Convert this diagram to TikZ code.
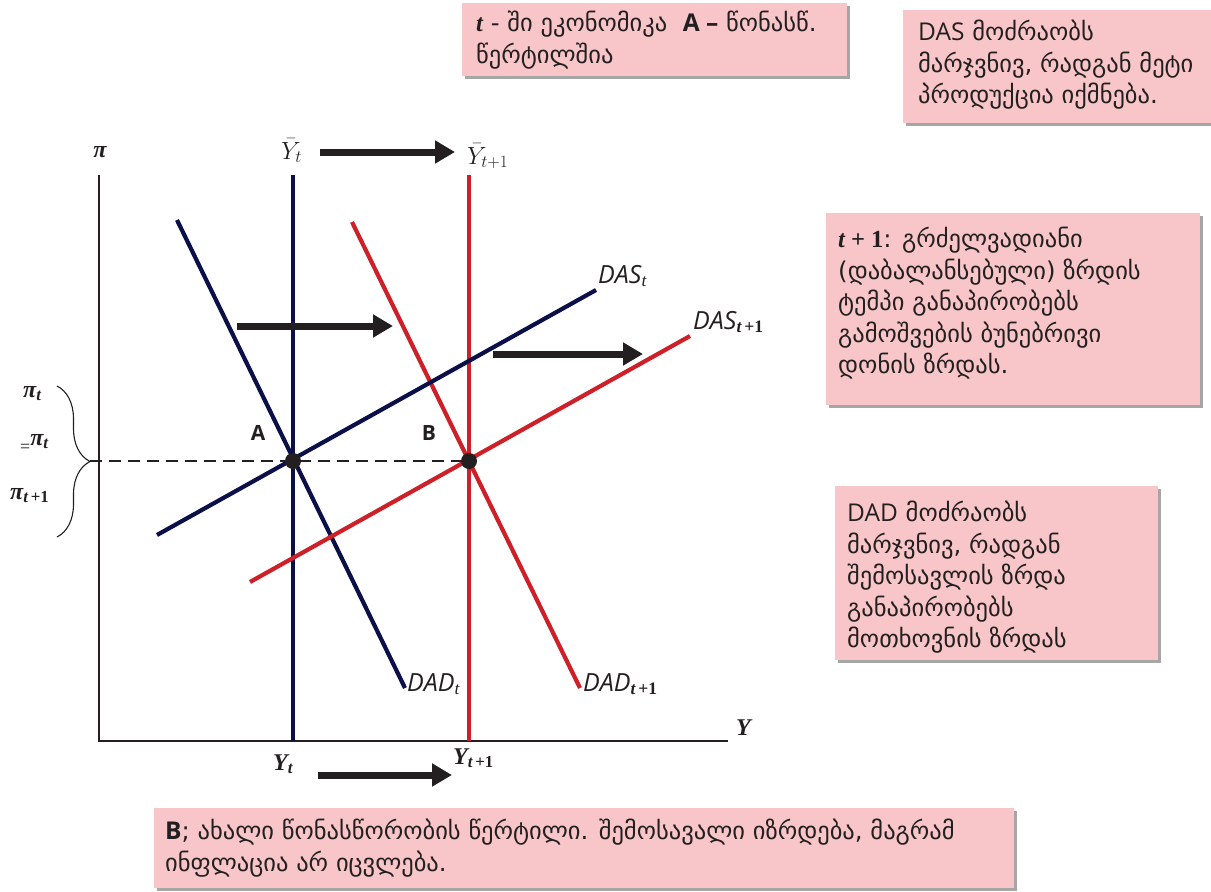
\documentclass[tikz,border=0pt]{standalone}
\usepackage{fontspec}
\setmainfont{DejaVu Sans}
\newfontfamily\lat{Open Sans}
\newfontfamily\tms{Liberation Serif}
\usetikzlibrary{arrows.meta,shadows,decorations.pathreplacing}

\definecolor{navy}{RGB}{12,16,72}
\definecolor{cred}{RGB}{206,32,41}
\definecolor{notepink}{RGB}{248,198,200}
\definecolor{ink}{RGB}{35,31,32}

\tikzset{
  note/.style={fill=notepink, draw=none, inner sep=0pt, anchor=north west,
    drop shadow={shadow xshift=3pt, shadow yshift=-3pt, fill=black, opacity=0.35}},
  notetext/.style={anchor=north west, align=left, inner sep=0pt, text=ink,
    font=\fontsize{24.5}{31.5}\selectfont},
  axisline/.style={draw=ink, line width=1.6pt},
  navyline/.style={draw=navy, line width=4.2pt},
  redline/.style={draw=cred, line width=4.2pt},
  shift arrow/.style={draw=ink, line width=7pt, -{Triangle[length=20pt,width=22pt]}},
  eqdot/.style={circle, fill=ink, minimum size=16pt, inner sep=0pt},
  curvelabel/.style={anchor=base west, inner sep=0pt, text=ink,
    font=\lat\itshape\fontsize{25}{25}\selectfont},
  mathlabel/.style={anchor=base west, inner sep=0pt, text=ink,
    font=\tms\bfseries\itshape\fontsize{24}{24}\selectfont},
  barlabel/.style={anchor=base west, inner sep=0pt, text=ink,
    font=\fontsize{26}{26}\selectfont},
  pointlabel/.style={inner sep=0pt, text=ink, font=\lat\bfseries\fontsize{21}{21}\selectfont},
}

\newcommand{\sbt}[1]{\textsubscript{\tms\itshape #1}}
\newcommand{\sbtp}{\textsubscript{\tms\bfseries\itshape t\,\upshape+1}}

\begin{document}
\begin{tikzpicture}[x=1pt,y=-1pt]
\useasboundingbox (0,0) rectangle (1211,892);

% ---- notes ----
\node[note, minimum width=385pt, minimum height=73pt] (n1) at (462,3) {};
\node[notetext] (n1t) at (476,11) {{\tms\bfseries\itshape t} - ში ეკონომიკა\ \ {\lat\bfseries A –} წონასწ.\\წერტილშია};

\node[note, minimum width=312pt, minimum height=113pt] (n2) at (903,10) {};
\node[notetext] (n2t) at (918,20) {{\lat DAS} მოძრაობს\\მარჯვნივ, რადგან მეტი\\პროდუქცია იქმნება.};

\node[note, minimum width=374pt, minimum height=192pt] (n3) at (826,213) {};
\node[notetext] (n3t) at (838,227) {{\tms\bfseries\itshape t\upshape\ + 1}: გრძელვადიანი\\(დაბალანსებული) ზრდის\\ტემპი განაპირობებს\\გამოშვების ბუნებრივი\\დონის ზრდას.};

\node[note, minimum width=323pt, minimum height=174pt] (n4) at (835,486) {};
\node[notetext] (n4t) at (847,501) {{\lat DAD} მოძრაობს\\მარჯვნივ, რადგან\\შემოსავლის ზრდა\\განაპირობებს\\მოთხოვნის ზრდას};

\node[note, minimum width=860pt, minimum height=80pt] (n5) at (154,808) {};
\node[notetext] (n5t) at (165,819) {{\lat\bfseries B}; ახალი წონასწორობის წერტილი. შემოსავალი იზრდება, მაგრამ\\ინფლაცია არ იცვლება.};

% ---- axes ----
\coordinate (ytop) at (99,175);
\coordinate (O) at (99,741);
\coordinate (xend) at (728,741);
\draw[axisline] (ytop) -- (O) -- (xend);
\node[mathlabel, anchor=center] (pi) at (100,152) {π};
\node[mathlabel] (Ylab) at (736,735) {Y};

% ---- equilibrium points ----
\coordinate (A) at (293,461);
\coordinate (B) at (469,461);

% brace with inflation labels
\coordinate (brtop) at (57,386);
\coordinate (brbot) at (57,537);
\coordinate (brtip) at (90,461);
\draw[ink, line width=1.1pt, decorate, decoration={brace, amplitude=33pt}] (brtop) -- (brbot);
\draw[ink, line width=1.2pt, dash pattern=on 12pt off 7pt] (brtip) -- (B);
\node[mathlabel] (pit) at (23,397) {π\sbt{t}};
\node[mathlabel] (pieq) at (20,452) {{\upshape\mdseries\fontsize{18}{18}\selectfont =}\raisebox{7pt}{π\sbt{t}}};
\node[mathlabel] (pitp) at (10,499) {π\sbtp};

% ---- potential output ----
\coordinate (ybt1) at (293,175);
\coordinate (ybt2) at (293,741);
\coordinate (ybn1) at (469,175);
\coordinate (ybn2) at (469,741);
\draw[navyline] (ybt1) -- (ybt2);
\draw[redline] (ybn1) -- (ybn2);
\node[barlabel] (ybarlab1) at (281,159) {$\bar{Y}_t$};
\node[barlabel] (ybarlab2) at (467,164) {$\bar{Y}_{t+1}$};
\node[mathlabel] (ylab1) at (273,770) {Y\sbt{t}};
\node[mathlabel] (ylab2) at (453,764) {Y\sbtp};

% ---- demand curves ----
\coordinate (dad1a) at (177,220);
\coordinate (dad1b) at (405,688);
\coordinate (dad2a) at (352,222);
\coordinate (dad2b) at (580,688);
\draw[navyline] (dad1a) -- (dad1b);
\draw[redline] (dad2a) -- (dad2b);
\node[curvelabel] (dadlab1) at (407,691) {DAD\sbt{t}};
\node[curvelabel] (dadlab2) at (583,691) {DAD\sbtp};

% ---- supply curves ----
\coordinate (das1a) at (157,535);
\coordinate (das1b) at (596,290);
\coordinate (das2a) at (250,582);
\coordinate (das2b) at (690,336);
\draw[navyline] (das1a) -- (das1b);
\draw[redline] (das2a) -- (das2b);
\node[curvelabel] (daslab1) at (598,283) {DAS\sbt{t}};
\node[curvelabel] (daslab2) at (693,329) {DAS\sbtp};

% ---- shift arrows ----
\coordinate (ar1s) at (320,152); \coordinate (ar1e) at (455,152);
\coordinate (ar2s) at (318,775); \coordinate (ar2e) at (452,775);
\coordinate (ar3s) at (237,326); \coordinate (ar3e) at (393,326);
\coordinate (ar4s) at (493,354); \coordinate (ar4e) at (643,354);
\draw[shift arrow] (ar1s) -- (ar1e);
\draw[shift arrow] (ar2s) -- (ar2e);
\draw[shift arrow] (ar3s) -- (ar3e);
\draw[shift arrow] (ar4s) -- (ar4e);

% ---- points ----
\node[eqdot] (Adot) at (A) {};
\node[eqdot] (Bdot) at (B) {};
\node[pointlabel] (Alab) at (258,433) {A};
\node[pointlabel] (Blab) at (429,433) {B};
\end{tikzpicture}
\end{document}
